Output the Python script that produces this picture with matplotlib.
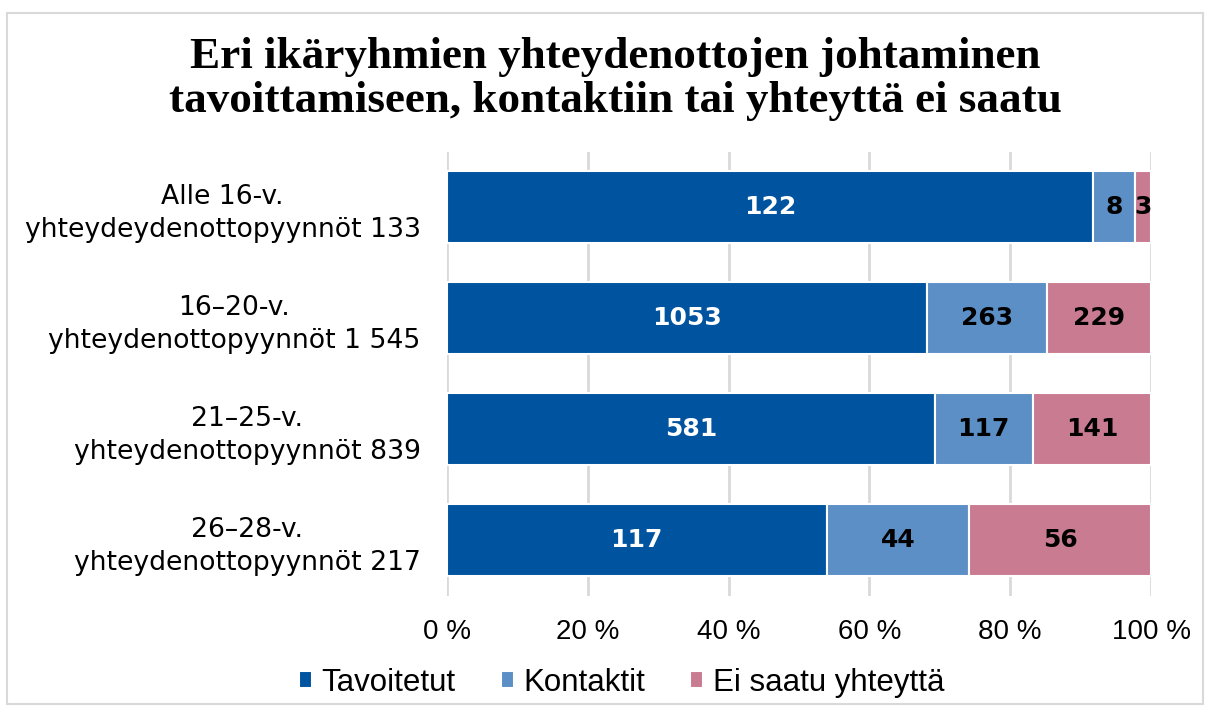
import numpy as np
import matplotlib
matplotlib.use("Agg")
import matplotlib.pyplot as plt
from matplotlib.patches import Rectangle

# Values
categories = ["Alle 16-v.\nyhteydeydenottopyynnöt 133",
              "16–20-v.\nyhteydenottopyynnöt 1 545",
              "21–25-v.\nyhteydenottopyynnöt 839",
              "26–28-v.\nyhteydenottopyynnöt 217"]
tavoitetut = [122, 1053, 581, 117]
kontaktit = [8, 263, 117, 44]
ei_saatu = [3, 229, 141, 56]
series_names = ["Tavoitetut", "Kontaktit", "Ei saatu yhteyttä"]
tick_values = [0, 20, 40, 60, 80, 100]
tick_labels = ["0 %", "20 %", "40 %", "60 %", "80 %", "100 %"]

colors = ["#00539F", "#5B8FC6", "#C97B92"]
label_colors = ["white", "black", "black"]

counts = np.array([tavoitetut, kontaktit, ei_saatu], dtype=float)
shares = counts / counts.sum(axis=0) * 100

fig = plt.figure(figsize=(12.09, 7.10), dpi=100)
ax = fig.add_axes([447 / 1209, 1 - 595.5 / 710, 704 / 1209, 444 / 710])

ypos = np.arange(len(categories))[::-1]
left = np.zeros(len(categories))
for i, name in enumerate(series_names):
    bars = ax.barh(ypos, shares[i], left=left, height=0.65, color=colors[i],
                   edgecolor="white", linewidth=1.5, label=name, zorder=3)
    for bar, val in zip(bars, counts[i]):
        cx = bar.get_x() + bar.get_width() / 2
        cy = bar.get_y() + bar.get_height() / 2
        ax.text(cx, cy, f"{int(val)}", ha="center", va="center",
                color=label_colors[i], fontsize=18, fontweight="bold",
                family="DejaVu Sans", zorder=4)
    left += shares[i]

ax.set_xlim(0, 100)
ax.set_ylim(-0.5, len(categories) - 0.5)
ax.set_xticks(tick_values)
ax.set_xticklabels(tick_labels, family="Liberation Sans", fontsize=20)
ax.set_yticks(ypos)
ax.set_yticklabels(categories, family="DejaVu Sans", fontsize=19.2, multialignment="center",
                   linespacing=1.35)
ax.tick_params(axis="x", length=0, pad=17)
ax.tick_params(axis="y", length=0, pad=19)
ax.grid(axis="x", color="#D9D9D9", linewidth=2, zorder=0)
for s in ax.spines.values():
    s.set_visible(False)

fig.text(0.509, 1 - 79 / 710,
         "Eri ikäryhmien yhteydenottojen johtaminen\ntavoittamiseen, kontaktiin tai yhteyttä ei saatu",
         ha="center", va="center", family="Liberation Serif", fontweight="bold",
         fontsize=32.5, linespacing=1.15)

fig.legend(loc="center", bbox_to_anchor=(0.514, 1 - 683 / 710), ncol=3, frameon=False,
           prop={"family": "Liberation Sans", "size": 22.5}, handlelength=0.42,
           handleheight=0.47, handletextpad=0.3, columnspacing=1.45)

fig.patches.append(Rectangle((7 / 1209, 6 / 710), 1196 / 1209, 691 / 710,
                             transform=fig.transFigure, fill=False,
                             edgecolor="#D9D9D9", linewidth=1.5))

fig.savefig("out.png", dpi=100)
